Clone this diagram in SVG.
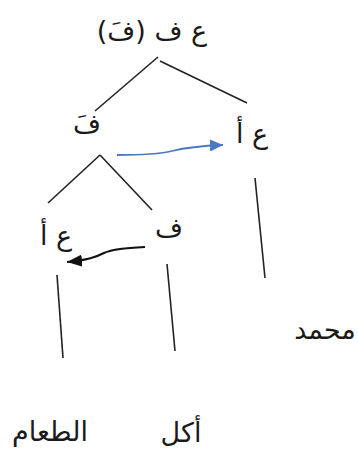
<svg xmlns="http://www.w3.org/2000/svg" width="358" height="462" viewBox="0 0 358 462">
<style>
text{font-family:"DejaVu Sans","Noto Sans",sans-serif;font-size:27px;fill:#1a1a1a;text-anchor:middle;direction:rtl;unicode-bidi:embed}
.edge{stroke:#222;stroke-width:1.6;fill:none}
.blue{stroke:#4a78c2;stroke-width:1.8;fill:none}
.black{stroke:#111;stroke-width:2;fill:none}
</style>
<defs>
<marker id="ah-blue" markerUnits="userSpaceOnUse" markerWidth="14" markerHeight="12" refX="13" refY="6" orient="auto">
<path d="M0,0 L13,6 L0,12 Z" fill="#4a78c2"/>
</marker>
<marker id="ah-black" markerUnits="userSpaceOnUse" markerWidth="16" markerHeight="12" refX="15" refY="6" orient="auto">
<path d="M0,0 L15,6 L0,12 Z" fill="#111"/>
</marker>
</defs>
<rect width="358" height="462" fill="#fff"/>
<g id="connectors">
<line class="edge" x1="158" y1="57" x2="95" y2="111"/>
<line class="edge" x1="160" y1="61" x2="247" y2="103"/>
<line class="edge" x1="100" y1="155" x2="48" y2="203"/>
<line class="edge" x1="100" y1="155" x2="152" y2="210"/>
<line class="edge" x1="57" y1="275" x2="63" y2="358"/>
<line class="edge" x1="167" y1="264" x2="175" y2="351"/>
<line class="edge" x1="255" y1="178" x2="265" y2="278"/>
<path class="blue" d="M117,155 C145,155 160,154 172,151 C184,148 198,146 223,145" marker-end="url(#ah-blue)"/>
<path class="black" d="M145,247 C125,248 112,249 104,253 C96,257 88,260 67,262" marker-end="url(#ah-black)"/>
</g>
<g id="node-top"><text x="152" y="40">ع ف (فَ)</text></g>
<g id="node-f-bar"><text x="87" y="133">فَ</text></g>
<g id="node-right-np"><text x="252" y="143">ع أ</text></g>
<g id="node-left-np"><text x="56" y="245">ع أ</text></g>
<g id="node-f"><text x="169" y="237">ف</text></g>
<g id="word-mohammed"><text x="325" y="339">محمد</text></g>
<g id="word-akala"><text x="181" y="442">أكل</text></g>
<g id="word-taam"><text x="50" y="441">الطعام</text></g>
</svg>
